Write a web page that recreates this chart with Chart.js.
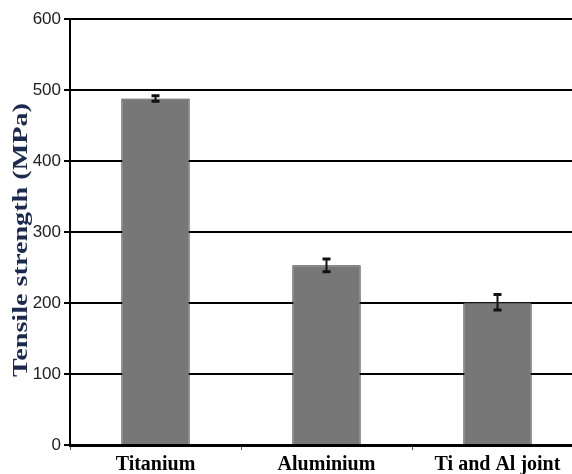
<!DOCTYPE html>
<html>
<head>
<meta charset="utf-8">
<script src="https://cdn.jsdelivr.net/npm/chart.js@4"></script>
<style>
  html, body { margin: 0; padding: 0; background: #fff; overflow: hidden; }
  #wrap { width: 583px; height: 474px; }
</style>
</head>
<body>
<div id="wrap"><canvas id="chart"></canvas></div>
<script>
'use strict';

// ─── Datos ────────────────────────────────────────────────────────────────────

const categories = ['Titanium', 'Aluminium', 'Ti and Al joint'];
const strength   = [488, 253, 201];
const errors     = [4, 9, 11];
const yTicks     = [0, 100, 200, 300, 400, 500, 600];
const yTitle     = 'Tensile strength (MPa)';

// ─── Barras de error ─────────────────────────────────────────────────────────

const errorBars = {
  id: 'errorBars',
  afterDatasetsDraw(chart) {
    const ctx = chart.ctx;
    const y = chart.scales.y;
    const meta = chart.getDatasetMeta(0);
    ctx.save();
    ctx.strokeStyle = '#111';
    meta.data.forEach(function(bar, i) {
      const top = y.getPixelForValue(strength[i] + errors[i]);
      const bot = y.getPixelForValue(strength[i] - errors[i]);
      ctx.lineWidth = 2;
      ctx.beginPath();
      ctx.moveTo(bar.x, top);
      ctx.lineTo(bar.x, bot);
      ctx.stroke();
      ctx.lineWidth = 3;
      ctx.beginPath();
      ctx.moveTo(bar.x - 4, top); ctx.lineTo(bar.x + 4, top);
      ctx.moveTo(bar.x - 4, bot); ctx.lineTo(bar.x + 4, bot);
      ctx.stroke();
    });
    ctx.restore();
  },
};

// Titulo del eje Y, estirado como en la figura original
const yAxisTitle = {
  id: 'yAxisTitle',
  afterDraw(chart) {
    const ctx = chart.ctx;
    const area = chart.chartArea;
    ctx.save();
    ctx.translate(22, (area.top + area.bottom) / 2 + 8);
    ctx.rotate(-Math.PI / 2);
    ctx.font = "bold 21px 'Liberation Serif', serif";
    const w = ctx.measureText(yTitle).width;
    ctx.scale(274 / w, 1);
    ctx.fillStyle = '#1b2a4e';
    ctx.textAlign = 'center';
    ctx.textBaseline = 'middle';
    ctx.fillText(yTitle, 0, 0);
    ctx.restore();
  },
};

// ─── Grafica ─────────────────────────────────────────────────────────────────

new Chart(document.getElementById('chart').getContext('2d'), {
  type: 'bar',
  data: {
    labels: categories,
    datasets: [{
      data: strength,
      backgroundColor: '#777777',
      borderColor: '#2a2a2a',
      borderWidth: 1,
      borderSkipped: 'bottom',
      barPercentage: 0.4,
      categoryPercentage: 1,
    }],
  },
  options: {
    responsive: true,
    maintainAspectRatio: false,
    animation: false,
    layout: { padding: { top: 19, left: 0, right: 0, bottom: 0 } },
    plugins: { legend: { display: false }, tooltip: { enabled: false } },
    scales: {
      x: {
        afterFit(scale) { scale.height = 29; },
        grid: { drawOnChartArea: false, drawTicks: true, tickLength: 5, color: '#555', lineWidth: 1 },
        border: { color: '#000', width: 3 },
        ticks: {
          color: '#000',
          padding: 3,
          font: { family: "'Liberation Serif', serif", weight: 'bold', size: 20 },
        },
      },
      y: {
        min: 0,
        max: 600,
        afterFit(scale) { scale.width = 70; },
        afterBuildTicks(scale) { scale.ticks = yTicks.map(function(v) { return { value: v }; }); },
        grid: { color: '#000', lineWidth: 2, tickLength: 6 },
        border: { color: '#000', width: 2 },
        ticks: {
          color: '#222',
          padding: 3,
          font: { family: "'Liberation Sans', Arial, sans-serif", size: 17 },
        },
      },
    },
  },
  plugins: [errorBars, yAxisTitle],
});
</script>
</body>
</html>
